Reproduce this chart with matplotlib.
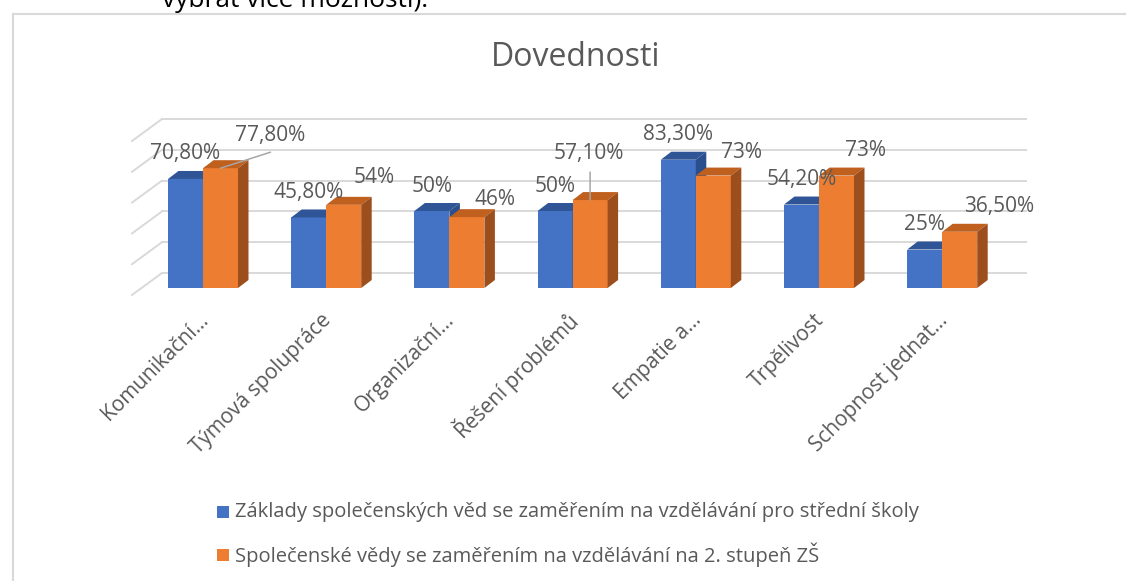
import matplotlib
matplotlib.use('Agg')
import matplotlib.pyplot as plt
from matplotlib.patches import Polygon, Rectangle
from matplotlib.lines import Line2D

plt.rcParams['font.family'] = ['Open Sans', 'DejaVu Sans']

# data
categories = ['Komunikační…', 'Týmová spolupráce', 'Organizační…', 'Řešení problémů',
              'Empatie a…', 'Trpělivost', 'Schopnost jednat…']
ss_values = [70.8, 45.8, 50, 50, 83.3, 54.2, 25]
zs_values = [77.8, 54, 46, 57.1, 73, 73, 36.5]
ss_labels = ['70,80%', '45,80%', '50%', '50%', '83,30%', '54,20%', '25%']
zs_labels = ['77,80%', '54%', '46%', '57,10%', '73%', '73%', '36,50%']
series_names = ['Základy společenských věd se zaměřením na vzdělávání pro střední školy',
                'Společenské vědy se zaměřením na vzdělávání na 2. stupeň ZŠ']
grid_values = [0, 20, 40, 60, 80, 100]

# colours
BLUE, BLUE_TOP, BLUE_SIDE = '#4472C4', '#2F5597', '#2B4E8C'
ORANGE, ORANGE_TOP, ORANGE_SIDE = '#ED7D31', '#C0601F', '#9C4E1C'
GRID = '#D9D9D9'
TEXT = '#595959'

W, H = 1126, 581
PX_X = 123.2   # pixels per category
PX_Y = 1.54    # pixels per percent
X0, Y0 = 203, 288  # pixel position of first category / zero line

fig = plt.figure(figsize=(W / 100, H / 100), dpi=100)
ax = fig.add_axes([0, 0, 1, 1])
ax.set_xlim(-X0 / PX_X, (W - X0) / PX_X)
ax.set_ylim(-(H - Y0) / PX_Y, Y0 / PX_Y)
ax.axis('off')

bw = 35 / PX_X
dx, dy = 10.5 / PX_X, 8 / PX_Y

# back wall gridlines + left side diagonals
wall_x0, wall_x1 = (162 - X0) / PX_X, (1026 - X0) / PX_X
front_x0 = (132 - X0) / PX_X
wall_dy, front_dy = 15 / PX_Y, -7 / PX_Y
for g in grid_values:
    ax.plot([wall_x0, wall_x1], [g + wall_dy] * 2, color=GRID, lw=1.4, zorder=1)
    ax.plot([front_x0, wall_x0], [g + front_dy, g + wall_dy], color=GRID, lw=1.4, zorder=1)


def box(ax, left, val, front, top, side, z):
    ax.bar(left, val, bw, align='edge', color=front, lw=0, zorder=z)
    ax.add_patch(Polygon([(left, val), (left + bw, val), (left + bw + dx, val + dy), (left + dx, val + dy)],
                         closed=True, color=top, lw=0, zorder=z))
    ax.add_patch(Polygon([(left + bw, 0), (left + bw + dx, dy), (left + bw + dx, val + dy), (left + bw, val)],
                         closed=True, color=side, lw=0, zorder=z))


for i in range(len(categories)):
    box(ax, i - bw, ss_values[i], BLUE, BLUE_TOP, BLUE_SIDE, 2)
    box(ax, i, zs_values[i], ORANGE, ORANGE_TOP, ORANGE_SIDE, 3)

# data labels
for i, (v, t) in enumerate(zip(ss_values, ss_labels)):
    ax.annotate(t, (i - bw / 2, v), xytext=(0, 25), textcoords='offset pixels',
                ha='center', va='center', fontsize=15, color=TEXT, zorder=5)

zs_offsets = [(14, 33), (10, 27), (8, 18), (-36, 47), (8, 23), (8, 25), (4, 25)]
for i, (v, t) in enumerate(zip(zs_values, zs_labels)):
    ax.annotate(t, (i + bw / 2, v), xytext=zs_offsets[i], textcoords='offset pixels',
                ha='left', va='center', fontsize=15, color=TEXT, zorder=5)

# leader lines
ax.annotate('', (0 + bw / 2, zs_values[0]), xytext=(50, 16), textcoords='offset pixels',
            arrowprops=dict(arrowstyle='-', color='#A6A6A6', lw=1.1, shrinkA=0, shrinkB=0), zorder=6)
ax.annotate('', (3 + bw / 2, zs_values[3]), xytext=(0, 28), textcoords='offset pixels',
            arrowprops=dict(arrowstyle='-', color='#A6A6A6', lw=1.1, shrinkA=0, shrinkB=0), zorder=6)

# category labels
for i, c in enumerate(categories):
    ax.annotate(c, (i, 0), xytext=(2, -29), textcoords='offset pixels', rotation=45,
                rotation_mode='anchor', ha='right', va='center', fontsize=15, color=TEXT)

# title
ax.text((576 - X0) / PX_X, (Y0 - 58) / PX_Y, 'Dovednosti', ha='center', va='center',
        fontsize=23, color=TEXT)

# legend
legend_rows = [512, 555]
legend_cols = [BLUE, ORANGE]
for name, col, py in zip(series_names, legend_cols, legend_rows):
    fig.patches.append(Rectangle((217 / W, 1 - (py + 6) / H), 12 / W, 12 / H,
                                 transform=fig.transFigure, color=col, lw=0))
    fig.text(235 / W, 1 - py / H, name, ha='left', va='center', fontsize=14.5, color=TEXT)

# chart frame and cut off document text
fig.lines.append(Line2D([12.5 / W, 1], [1 - 13.5 / H] * 2, transform=fig.transFigure, color=GRID, lw=1.5))
fig.lines.append(Line2D([12.5 / W] * 2, [0, 1 - 13.5 / H], transform=fig.transFigure, color=GRID, lw=1.5))
fig.text(162 / W, 1 - 7 / H, 'vybrat více možností).', ha='left', va='baseline', fontsize=19, color='black')

fig.savefig('out.png', dpi=100)
